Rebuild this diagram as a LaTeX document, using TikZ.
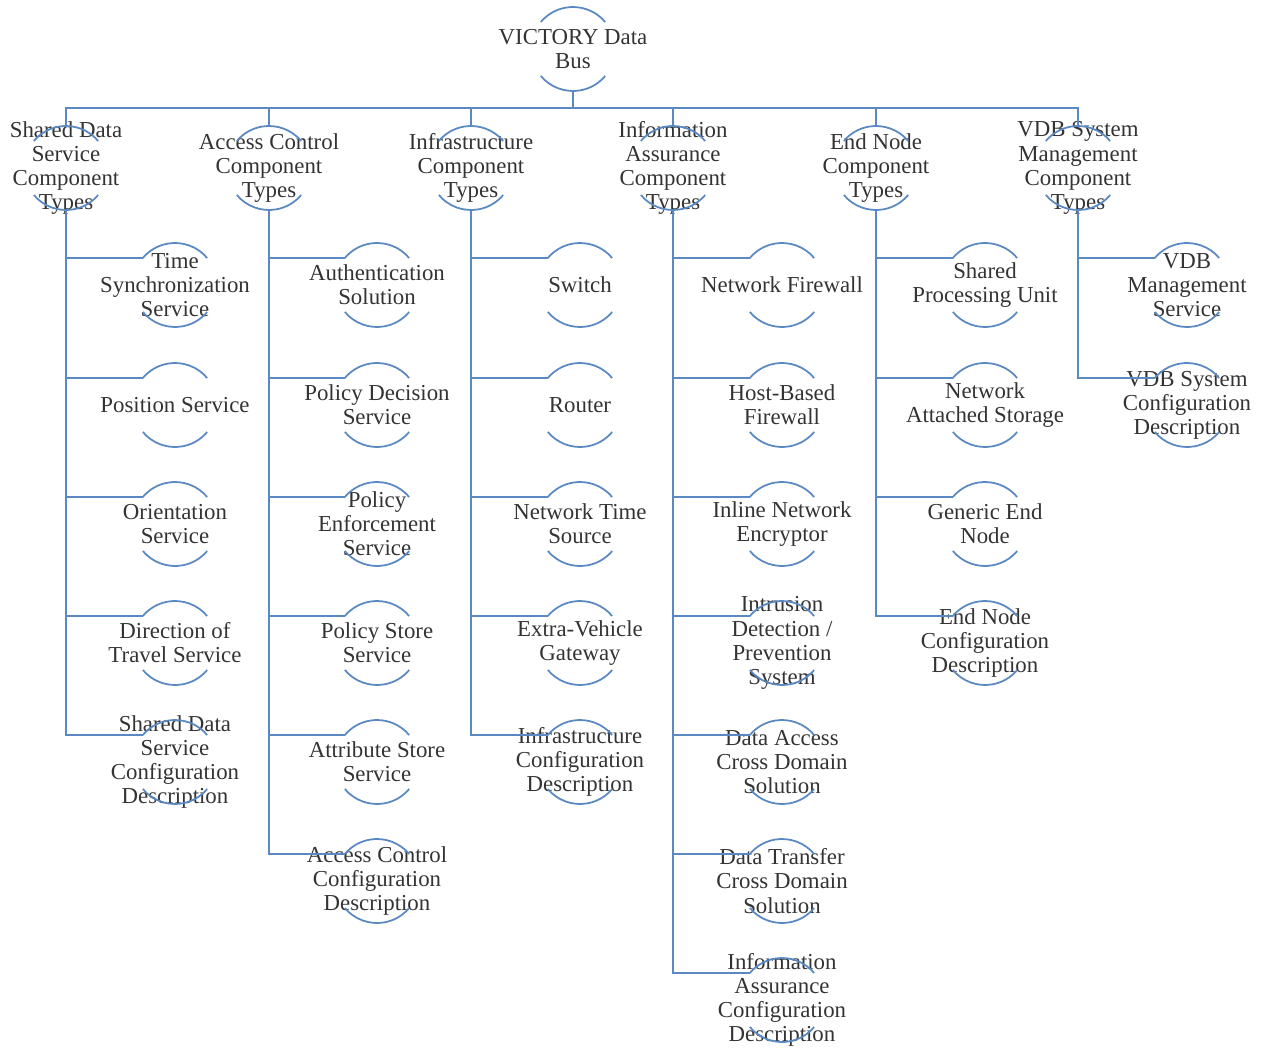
\documentclass[tikz,border=0pt]{standalone}
\usepackage{fontspec}
\setmainfont{Liberation Serif}
\usepackage{tikz}
\usetikzlibrary{calc}
\definecolor{wireblue}{HTML}{5A88C2}
\definecolor{txtgray}{HTML}{333333}
\tikzset{
  item/.style={align=center, inner sep=0pt, text=txtgray, font=\fontsize{13}{13.7}\selectfont},
  ring/.style={line width=1pt, color=wireblue},
  wire/.style={line width=1pt, color=wireblue}
}

\begin{document}
\begin{tikzpicture}
		%%%%% START %%%%%
		\useasboundingbox (0,0) rectangle (25.26,-21.02);
		
		% root
		\node[item] (bus) at (11.46,-0.98) {VICTORY Data\\Bus};
		
		% component types
		\node[item] (sds) at (1.32,-3.36) {Shared Data\\Service\\Component\\Types};
		\node[item] (acc) at (5.38,-3.36) {Access Control\\Component\\Types};
		\node[item] (inf) at (9.42,-3.36) {Infrastructure\\Component\\Types};
		\node[item] (ia) at (13.46,-3.36) {Information\\Assurance\\Component\\Types};
		\node[item] (en) at (17.52,-3.36) {End Node\\Component\\Types};
		\node[item] (mgmt) at (21.56,-3.36) {VDB System\\Management\\Component\\Types};
		
		% shared data service
		\node[item] (tsync) at (3.5,-5.7) {Time\\Synchronization\\Service};
		\node[item] (pos) at (3.5,-8.1) {Position Service};
		\node[item] (orient) at (3.5,-10.48) {Orientation\\Service};
		\node[item] (dir) at (3.5,-12.86) {Direction of\\Travel Service};
		\node[item] (sdscfg) at (3.5,-15.24) {Shared Data\\Service\\Configuration\\Description};
		
		% access control
		\node[item] (auth) at (7.54,-5.7) {Authentication\\Solution};
		\node[item] (pdp) at (7.54,-8.1) {Policy Decision\\Service};
		\node[item] (pep) at (7.54,-10.48) {Policy\\Enforcement\\Service};
		\node[item] (pstore) at (7.54,-12.86) {Policy Store\\Service};
		\node[item] (astore) at (7.54,-15.24) {Attribute Store\\Service};
		\node[item] (acccfg) at (7.54,-17.62) {Access Control\\Configuration\\Description};
		
		% infrastructure
		\node[item] (switch) at (11.6,-5.7) {Switch};
		\node[item] (router) at (11.6,-8.1) {Router};
		\node[item] (nts) at (11.6,-10.48) {Network Time\\Source};
		\node[item] (evg) at (11.6,-12.86) {Extra-Vehicle\\Gateway};
		\node[item] (infcfg) at (11.6,-15.24) {Infrastructure\\Configuration\\Description};
		
		% information assurance
		\node[item] (fw) at (15.64,-5.7) {Network Firewall};
		\node[item] (hfw) at (15.64,-8.1) {Host-Based\\Firewall};
		\node[item] (ine) at (15.64,-10.48) {Inline Network\\Encryptor};
		\node[item] (idps) at (15.64,-12.86) {Intrusion\\Detection /\\Prevention\\System};
		\node[item] (dacds) at (15.64,-15.24) {Data Access\\Cross Domain\\Solution};
		\node[item] (dtcds) at (15.64,-17.62) {Data Transfer\\Cross Domain\\Solution};
		\node[item] (iacfg) at (15.64,-20.0) {Information\\Assurance\\Configuration\\Description};
		
		% end node
		\node[item] (spu) at (19.7,-5.7) {Shared\\Processing Unit};
		\node[item] (nas) at (19.7,-8.1) {Network\\Attached Storage};
		\node[item] (gen) at (19.7,-10.48) {Generic End\\Node};
		\node[item] (encfg) at (19.7,-12.86) {End Node\\Configuration\\Description};
		
		% vdb system management
		\node[item] (vms) at (23.74,-5.7) {VDB\\Management\\Service};
		\node[item] (vsc) at (23.74,-8.1) {VDB System\\Configuration\\Description};
		
		% arcs and anchor points
		\foreach \n in {bus,sds,acc,inf,ia,en,mgmt,tsync,pos,orient,dir,sdscfg,auth,pdp,pep,pstore,astore,acccfg,switch,router,nts,evg,infcfg,fw,hfw,ine,idps,dacds,dtcds,iacfg,spu,nas,gen,encfg,vms,vsc} {
			\draw[ring] (\n.center) ++(40:0.84) arc[start angle=40, end angle=140, radius=0.84];
			\draw[ring] (\n.center) ++(220:0.84) arc[start angle=220, end angle=320, radius=0.84];
			\path (\n.center) ++(140:0.84) coordinate (\n-in)
			      (\n.center) ++(0,0.84) coordinate (\n-top)
			      (\n.center) ++(0,-0.84) coordinate (\n-bot);
		}
		
		% top level bus
		\coordinate (split) at (11.46,-2.16);
		\draw[wire] (bus-bot) -- (split);
		\foreach \n in {sds,acc,inf,ia,en,mgmt}
			\draw[wire] (split) -| (\n-top);
		
		% children
		\foreach \n in {tsync,pos,orient,dir,sdscfg}
			\draw[wire] (sds-bot) |- (\n-in);
		\foreach \n in {auth,pdp,pep,pstore,astore,acccfg}
			\draw[wire] (acc-bot) |- (\n-in);
		\foreach \n in {switch,router,nts,evg,infcfg}
			\draw[wire] (inf-bot) |- (\n-in);
		\foreach \n in {fw,hfw,ine,idps,dacds,dtcds,iacfg}
			\draw[wire] (ia-bot) |- (\n-in);
		\foreach \n in {spu,nas,gen,encfg}
			\draw[wire] (en-bot) |- (\n-in);
		\foreach \n in {vms,vsc}
			\draw[wire] (mgmt-bot) |- (\n-in);
		
		%%%%% END %%%%%
\end{tikzpicture}
\end{document}
